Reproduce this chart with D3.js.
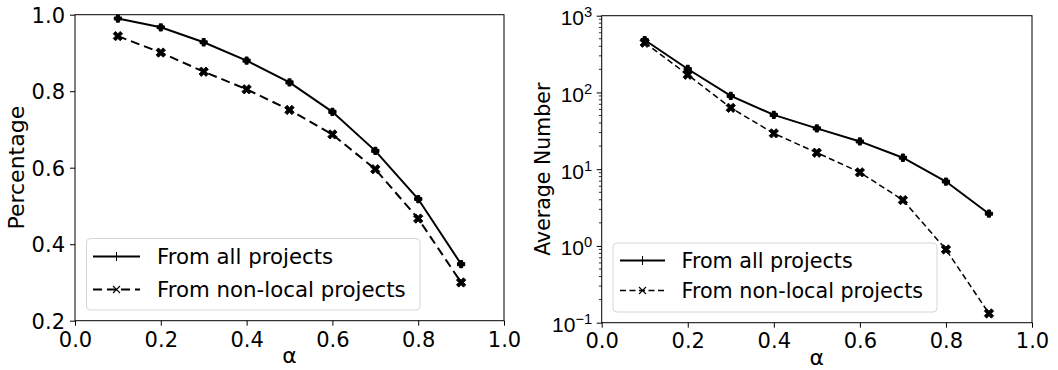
<!DOCTYPE html>
<html>
<head>
<meta charset="utf-8">
<script src="https://cdn.jsdelivr.net/npm/d3@7"></script>
<style>
  html, body { margin: 0; padding: 0; background: #fff; }
  svg { display: block; font-family: "DejaVu Sans", sans-serif; }
</style>
</head>
<body>
<svg id="chart" width="1058" height="370"></svg>
<script>
// ---- data ----
const alphas = [0.1, 0.2, 0.3, 0.4, 0.5, 0.6, 0.7, 0.8, 0.9];
const pctAll = [0.990, 0.967, 0.928, 0.880, 0.823, 0.746, 0.644, 0.518, 0.348];
const pctNonLocal = [0.944, 0.901, 0.851, 0.805, 0.751, 0.687, 0.596, 0.467, 0.300];
const avgAll = [482, 202, 90, 51, 34, 23, 14.1, 6.9, 2.63];
const avgNonLocal = [445, 170, 63, 29.3, 16.4, 9.1, 3.96, 0.90, 0.132];
const xTicks = [0.0, 0.2, 0.4, 0.6, 0.8, 1.0];
const pctTicks = [0.2, 0.4, 0.6, 0.8, 1.0];
const logTicks = [0.1, 1, 10, 100, 1000];
const seriesNames = ["From all projects", "From non-local projects"];

const svg = d3.select("#chart");

function drawPanel(opt) {
  const g = svg.append("g");
  const x = d3.scaleLinear().domain([0, 1]).range([opt.left, opt.right]);
  const y = opt.log
    ? d3.scaleLog().domain([0.1, 1000]).range([opt.bottom, opt.top])
    : d3.scaleLinear().domain([0.2, 1.0]).range([opt.bottom, opt.top]);

  // x axis
  const xa = g.append("g").attr("transform", `translate(0,${opt.bottom})`)
    .call(d3.axisBottom(x).tickValues(xTicks).tickFormat(d3.format(".1f")).tickSize(5).tickPadding(4));
  xa.select(".domain").remove();
  xa.selectAll("line").attr("stroke", "#000").attr("stroke-width", 1);
  xa.selectAll("text").attr("font-size", opt.fs).attr("fill", "#000")
    .attr("font-family", "DejaVu Sans").attr("dy", null).attr("y", opt.xLabelDy);

  // y axis
  const ya = g.append("g").attr("transform", `translate(${opt.left},0)`);
  if (!opt.log) {
    ya.call(d3.axisLeft(y).tickValues(pctTicks).tickFormat(d3.format(".1f")).tickSize(5).tickPadding(5));
    ya.selectAll("text").attr("font-size", opt.fs).attr("fill", "#000")
      .attr("font-family", "DejaVu Sans").attr("dy", "0.36em");
  } else {
    ya.call(d3.axisLeft(y).tickValues(logTicks).tickFormat("").tickSize(5));
    // minor ticks
    const minors = [];
    [0.1, 1, 10, 100].forEach(d => { for (let k = 2; k <= 9; k++) minors.push(d * k); });
    ya.selectAll(".minor").data(minors).join("line").attr("class", "minor")
      .attr("x1", 0).attr("x2", -2.8).attr("y1", d => y(d)).attr("y2", d => y(d))
      .attr("stroke", "#000").attr("stroke-width", 0.8);
    const lab = ya.selectAll(".lt").data(logTicks).join("text").attr("class", "lt")
      .attr("text-anchor", "end").attr("font-size", opt.fs).attr("fill", "#000")
      .attr("x", -9.5).attr("y", d => y(d) + 9.5);
    lab.append("tspan").text("10");
    lab.append("tspan").attr("font-size", opt.fs * 0.7).attr("dy", -8)
      .text(d => d === 0.1 ? "\u22121" : String(Math.round(Math.log10(d))));
  }
  ya.select(".domain").remove();
  ya.selectAll("line").attr("stroke", "#000");

  // frame
  g.append("rect").attr("x", opt.left).attr("y", opt.top)
    .attr("width", opt.right - opt.left).attr("height", opt.bottom - opt.top)
    .attr("fill", "none").attr("stroke", "#000").attr("stroke-width", 1);

  // labels
  g.append("text").attr("text-anchor", "middle").attr("font-size", opt.labFs)
    .attr("transform", `translate(${opt.yLabX},${(opt.top + opt.bottom) / 2}) rotate(-90)`)
    .attr("dy", "0.36em").text(opt.yLabel);
  g.append("text").attr("text-anchor", "middle").attr("font-size", 22)
    .attr("x", (opt.left + opt.right) / 2).attr("y", opt.alphaY).text("\u03b1");

  const line = d3.line().x((d, i) => x(alphas[i])).y(d => y(d));
  const plusSym = d3.symbol(d3.symbolCross, opt.plusSize);
  const xSym = d3.symbol(d3.symbolCross, opt.xSize);

  // all projects
  g.append("path").datum(opt.all).attr("d", line).attr("fill", "none")
    .attr("stroke", "#000").attr("stroke-width", 2);
  g.selectAll(".pa").data(opt.all).join("path").attr("class", "pa")
    .attr("d", plusSym).attr("fill", "#000").attr("stroke", "#000").attr("stroke-width", 2)
    .attr("stroke-linejoin", "round")
    .attr("transform", (d, i) => `translate(${x(alphas[i])},${y(d)})`);

  // non-local
  g.append("path").datum(opt.non).attr("d", line).attr("fill", "none")
    .attr("stroke", "#000").attr("stroke-width", opt.dashW).attr("stroke-dasharray", opt.dash);
  g.selectAll(".pn").data(opt.non).join("path").attr("class", "pn")
    .attr("d", xSym).attr("fill", "#000").attr("stroke", "#000").attr("stroke-width", 0.8)
    .attr("transform", (d, i) => `translate(${x(alphas[i])},${y(d)}) rotate(45)`);

  // legend
  const L = opt.legend;
  const lg = g.append("g");
  lg.append("rect").attr("x", L.x).attr("y", L.y).attr("width", L.w).attr("height", L.h)
    .attr("rx", 4).attr("fill", "#fff").attr("fill-opacity", 0.8)
    .attr("stroke", "#d6d6d6").attr("stroke-width", 1);
  seriesNames.forEach((name, i) => {
    const cy = L.row[i];
    const mid = (L.lx1 + L.lx2) / 2;
    lg.append("line").attr("x1", L.lx1).attr("x2", L.lx2).attr("y1", cy).attr("y2", cy)
      .attr("stroke", "#000").attr("stroke-width", i === 0 ? 2 : opt.dashW)
      .attr("stroke-dasharray", i === 0 ? null : opt.dash);
    if (i === 0) {
      lg.append("line").attr("x1", mid).attr("x2", mid).attr("y1", cy - 4.5).attr("y2", cy + 4.5)
        .attr("stroke", "#000").attr("stroke-width", 1);
    } else {
      lg.append("path").attr("d", `M${mid - 3.5},${cy - 3.5}L${mid + 3.5},${cy + 3.5}M${mid - 3.5},${cy + 3.5}L${mid + 3.5},${cy - 3.5}`)
        .attr("stroke", "#000").attr("stroke-width", 1.1);
    }
    lg.append("text").attr("x", L.tx).attr("y", cy).attr("dy", "0.36em")
      .attr("font-size", L.fs).attr("fill", "#000").text(name);
  });
}

drawPanel({
  left: 75, right: 504, top: 14.7, bottom: 320.7, log: false,
  fs: 21, labFs: 22, yLabel: "Percentage", yLabX: 16, alphaY: 363, xLabelDy: 26,
  all: pctAll, non: pctNonLocal, plusSize: 22, xSize: 55,
  dashW: 2, dash: "9,5",
  legend: { x: 86.5, y: 238.5, w: 333.5, h: 71.5, row: [256.5, 289.5], lx1: 93, lx2: 140, tx: 157, fs: 21.3 }
});

drawPanel({
  left: 601.7, right: 1032, top: 15.7, bottom: 322.7, log: true,
  fs: 21, labFs: 20.5, yLabel: "Average Number", yLabX: 543, alphaY: 365, xLabelDy: 25.5,
  all: avgAll, non: avgNonLocal, plusSize: 22, xSize: 55,
  dashW: 1.5, dash: "6,3.5",
  legend: { x: 613, y: 243, w: 324, h: 69, row: [260.5, 290.5], lx1: 620, lx2: 665, tx: 681.5, fs: 20.7 }
});
</script>
</body>
</html>
